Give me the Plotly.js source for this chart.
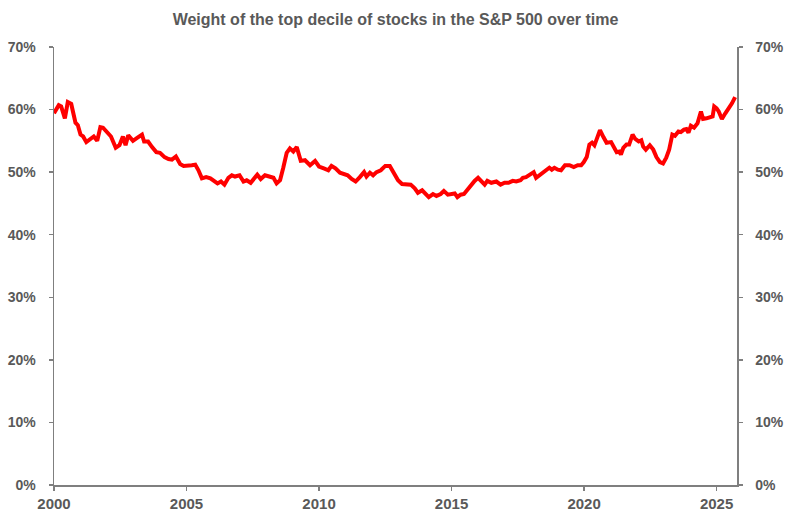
<!DOCTYPE html>
<html>
<head>
<meta charset="utf-8">
<script src="https://cdn.plot.ly/plotly-3.0.1.min.js"></script>
<style>
  html, body { margin: 0; padding: 0; background: #fff; }
  #chart { width: 791px; height: 521px; }
</style>
</head>
<body>
<div id="chart"></div>
<script>
// ---- data (decimal years) ---------------------------------------------------
const YEARS = [
  2000.00, 2000.18, 2000.27, 2000.41, 2000.52, 2000.65, 2000.81, 2000.90,
  2001.00, 2001.10, 2001.22, 2001.37, 2001.50, 2001.63, 2001.75, 2001.85,
  2002.00, 2002.15, 2002.33, 2002.47, 2002.60, 2002.70, 2002.80, 2002.98,
  2003.15, 2003.32, 2003.40, 2003.55, 2003.70, 2003.86,
  2004.00, 2004.17, 2004.32, 2004.45, 2004.60, 2004.76, 2004.89,
  2005.07, 2005.20, 2005.33, 2005.45, 2005.58, 2005.74, 2005.90,
  2006.02, 2006.17, 2006.30, 2006.43, 2006.58, 2006.71, 2006.83,
  2007.00, 2007.15, 2007.27, 2007.42, 2007.55, 2007.67, 2007.80, 2007.96,
  2008.12, 2008.28, 2008.40, 2008.53, 2008.65, 2008.78, 2008.90,
  2009.03, 2009.16, 2009.31, 2009.47, 2009.66, 2009.85,
  2010.00, 2010.18, 2010.35, 2010.47, 2010.62, 2010.79, 2010.95,
  2011.08, 2011.23, 2011.38, 2011.54, 2011.70, 2011.79, 2011.92,
  2012.04, 2012.17, 2012.33, 2012.50, 2012.67, 2012.83, 2012.98,
  2013.13, 2013.30, 2013.46, 2013.61, 2013.73, 2013.89,
  2014.05, 2014.14, 2014.30, 2014.43, 2014.59, 2014.71, 2014.86,
  2015.01, 2015.12, 2015.22, 2015.34, 2015.47, 2015.60, 2015.72, 2015.87,
  2016.00, 2016.14, 2016.25, 2016.35, 2016.50, 2016.69, 2016.85,
  2017.00, 2017.15, 2017.31, 2017.44, 2017.60, 2017.69, 2017.81, 2017.98,
  2018.10, 2018.19, 2018.32, 2018.44, 2018.57, 2018.69, 2018.78, 2018.88,
  2019.01, 2019.13, 2019.28, 2019.45, 2019.61, 2019.76, 2019.89, 2019.99,
  2020.10, 2020.20, 2020.30, 2020.39, 2020.47, 2020.60, 2020.73, 2020.85,
  2021.02, 2021.10, 2021.23, 2021.33, 2021.39, 2021.48, 2021.60, 2021.70, 2021.83, 2021.93,
  2022.06, 2022.16, 2022.23, 2022.33, 2022.48, 2022.61, 2022.73, 2022.86, 2022.98,
  2023.10, 2023.21, 2023.33, 2023.43, 2023.56, 2023.65, 2023.77, 2023.86, 2023.94,
  2024.03, 2024.15, 2024.28, 2024.41, 2024.49, 2024.62, 2024.75, 2024.85, 2024.91,
  2025.00, 2025.08, 2025.20, 2025.33, 2025.46, 2025.58, 2025.70,
];

// weight of the top decile, in percent
const TOP_DECILE_WEIGHT = [
  59.4, 60.7, 60.5, 58.6, 61.2, 60.9, 57.9, 57.5,
  56.0, 55.7, 54.8, 55.3, 55.7, 55.0, 57.2, 57.1,
  56.3, 55.7, 53.9, 54.3, 55.7, 54.3, 55.9, 55.0,
  55.5, 56.0, 54.9, 54.9, 54.0, 53.2,
  53.1, 52.4, 52.1, 52.0, 52.5, 51.3, 51.0,
  51.0, 51.1, 51.2, 50.3, 49.0, 49.2, 49.0,
  48.7, 48.2, 48.5, 48.0, 49.1, 49.5, 49.3,
  49.5, 48.5, 48.7, 48.3, 49.1, 49.6, 48.9, 49.5,
  49.3, 49.1, 48.2, 48.7, 50.7, 53.1, 53.8,
  53.3, 54.0, 51.8, 51.9, 51.1, 51.8,
  50.9, 50.6, 50.3, 51.0, 50.6, 49.9, 49.6,
  49.5, 48.9, 48.5, 49.2, 50.0, 49.3, 49.9,
  49.5, 50.0, 50.3, 51.0, 51.0, 49.9, 48.7,
  48.1, 48.0, 48.0, 47.4, 46.7, 47.1,
  46.4, 46.0, 46.5, 46.2, 46.5, 47.0, 46.4,
  46.6, 46.6, 46.0, 46.4, 46.5, 47.2, 48.0, 48.6,
  49.1, 48.6, 48.0, 48.6, 48.3, 48.5, 48.0,
  48.3, 48.3, 48.6, 48.5, 48.7, 49.1, 49.2, 49.6,
  50.0, 49.1, 49.5, 49.9, 50.2, 50.7, 50.4, 50.7,
  50.4, 50.3, 51.1, 51.1, 50.8, 51.1, 51.1, 51.6,
  52.4, 54.4, 54.7, 54.3, 55.2, 56.7, 55.6, 54.7,
  54.8, 54.1, 53.2, 53.3, 52.8, 53.9, 54.4, 54.4, 56.0, 55.3,
  54.9, 55.1, 54.1, 53.6, 54.3, 53.6, 52.4, 51.6, 51.4,
  52.3, 53.6, 56.0, 55.8, 56.5, 56.4, 56.8, 56.9, 56.3,
  57.4, 57.1, 57.8, 59.7, 58.5, 58.6, 58.8, 58.9, 60.5,
  60.2, 59.7, 58.5, 59.4, 60.2, 61.0, 62.0,
];

const X_TICKS = [2000, 2005, 2010, 2015, 2020, 2025];
const Y_TICKS = [0, 10, 20, 30, 40, 50, 60, 70];
const Y_TICK_LABELS = ['0%', '10%', '20%', '30%', '40%', '50%', '60%', '70%'];

const TITLE = 'Weight of the top decile of stocks in the S&amp;P 500 over time';

// ---- styling ----------------------------------------------------------------
const FONT = 'Liberation Sans, Arial, sans-serif';
const TEXT_GREY = '#595959';
const AXIS_GREY = '#7f7f7f';

const yAxisOpts = {
  range: [0, 70],
  tickvals: Y_TICKS,
  ticktext: Y_TICK_LABELS,
  showgrid: false, zeroline: false,
  showline: true, linecolor: AXIS_GREY, linewidth: 1.5,
  ticks: 'outside', ticklen: 4, tickwidth: 1.5, tickcolor: AXIS_GREY,
  tickfont: { family: FONT, size: 14, color: TEXT_GREY, weight: 'bold' },
  ticklabelstandoff: 10,
  fixedrange: true,
};

const traces = [
  {
    type: 'scatter', mode: 'lines',
    x: YEARS, y: TOP_DECILE_WEIGHT,
    line: { color: '#ff0000', width: 4 },
    hoverinfo: 'skip', showlegend: false,
  },
  // empty trace so the right-hand axis is drawn
  { type: 'scatter', mode: 'lines', x: [], y: [], yaxis: 'y2', showlegend: false },
];

const layout = {
  width: 791, height: 521,
  paper_bgcolor: '#fff', plot_bgcolor: '#fff',
  margin: { l: 54, r: 54, t: 47, b: 36 },
  title: {
    text: TITLE,
    font: { family: FONT, size: 16, color: TEXT_GREY, weight: 'bold' },
    x: 0.5, xanchor: 'center',
    y: 1 - 19 / 521, yanchor: 'middle', yref: 'container',
  },
  xaxis: {
    range: [2000, 2025.77],
    tickvals: X_TICKS,
    ticktext: X_TICKS.map(String),
    showgrid: false, zeroline: false,
    showline: true, linecolor: AXIS_GREY, linewidth: 1.5,
    ticks: 'outside', ticklen: 4, tickwidth: 1.5, tickcolor: AXIS_GREY,
    tickfont: { family: FONT, size: 15, color: TEXT_GREY, weight: 'bold' },
    fixedrange: true,
  },
  yaxis: { ...yAxisOpts, side: 'left' },
  yaxis2: { ...yAxisOpts, side: 'right', overlaying: 'y' },
  showlegend: false,
};

Plotly.newPlot('chart', traces, layout, { displayModeBar: false, staticPlot: true });
</script>
</body>
</html>
